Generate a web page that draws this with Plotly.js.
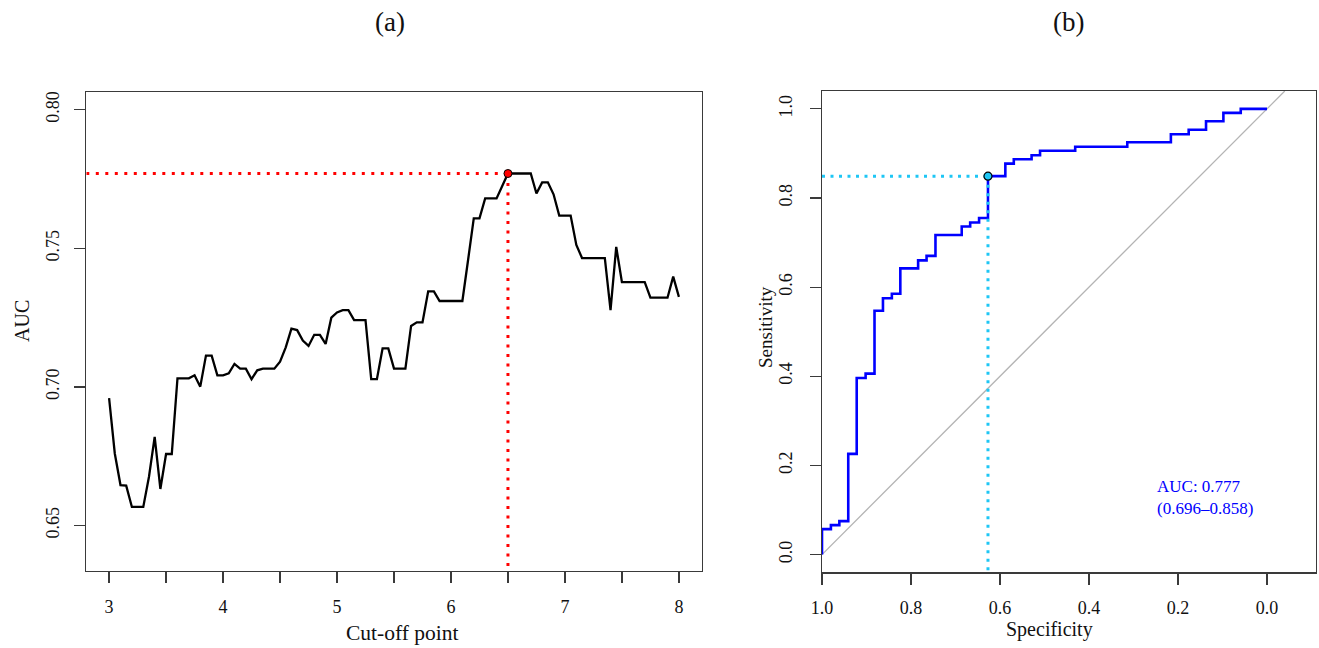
<!DOCTYPE html>
<html>
<head>
<meta charset="utf-8">
<script src="https://cdn.plot.ly/plotly-3.0.1.min.js"></script>
<style>html,body{margin:0;padding:0;background:#fff}#chart{width:1319px;height:648px}</style>
</head>
<body>
<div id="chart"></div>
<script>
// ---------- Panel (a): AUC by cut-off point ----------
const cutoff = [3.00,3.05,3.10,3.15,3.20,3.25,3.30,3.35,3.40,3.45,3.50,3.55,3.60,3.65,3.70,3.75,3.80,3.85,3.90,3.95,
  4.00,4.05,4.10,4.15,4.20,4.25,4.30,4.35,4.40,4.45,4.50,4.55,4.60,4.65,4.70,4.75,4.80,4.85,4.90,4.95,
  5.00,5.05,5.10,5.15,5.20,5.25,5.30,5.35,5.40,5.45,5.50,5.55,5.60,5.65,5.70,5.75,5.80,5.85,5.90,5.95,
  6.00,6.05,6.10,6.15,6.20,6.25,6.30,6.35,6.40,6.50,6.55,6.60,6.65,6.70,6.75,6.80,6.85,6.90,6.95,
  7.00,7.05,7.10,7.15,7.20,7.25,7.30,7.35,7.40,7.45,7.50,7.55,7.60,7.65,7.70,7.75,7.80,7.85,7.90,7.95,8.00];
const aucValues = [0.696,0.676,0.6646,0.6644,0.6567,0.6567,0.6567,0.6676,0.682,0.6632,0.6758,0.6758,0.7031,0.7031,0.7031,0.7042,0.7001,0.7113,0.7113,0.7042,
  0.7042,0.7049,0.7083,0.7066,0.7066,0.7028,0.706,0.7066,0.7066,0.7066,0.7091,0.7143,0.721,0.7205,0.7167,0.7148,0.7188,0.7188,0.7155,0.725,
  0.7269,0.7277,0.7277,0.7241,0.7241,0.7241,0.7028,0.7028,0.7139,0.7139,0.7066,0.7066,0.7066,0.722,0.7233,0.7233,0.7345,0.7345,0.731,0.731,
  0.731,0.731,0.731,0.7458,0.7608,0.7608,0.768,0.768,0.768,0.777,0.777,0.777,0.777,0.777,0.7698,0.7738,0.7738,0.7695,0.7618,
  0.7618,0.7618,0.7512,0.7465,0.7465,0.7465,0.7465,0.7465,0.7277,0.7505,0.7378,0.7378,0.7378,0.7378,0.7378,0.7322,0.7322,0.7322,0.7322,0.7398,0.7325];
const bestCutoff = 6.5;
const bestAUC = 0.777;
const aXRange = [2.8, 8.2];
const aYRange = [0.6336, 0.8064];
const aXTickVals = [3,3.5,4,4.5,5,5.5,6,6.5,7,7.5,8];
const aXTickText = ['3','','4','','5','','6','','7','','8'];
const aYTickVals = [0.65,0.70,0.75,0.80];
const aYTickText = ['0.65','0.70','0.75','0.80'];

// ---------- Panel (b): ROC curve ----------
const specificity = [1.000,1.000,0.980,0.980,0.961,0.961,0.941,0.941,0.922,0.922,0.902,0.902,0.882,0.882,0.863,0.863,0.843,0.843,0.824,0.824,
  0.784,0.784,0.765,0.765,0.745,0.745,0.686,0.686,0.667,0.667,0.647,0.647,0.627,0.627,0.588,0.588,0.569,0.569,0.529,0.529,
  0.510,0.510,0.431,0.431,0.314,0.314,0.216,0.216,0.176,0.176,0.137,0.137,0.098,0.098,0.059,0.059,0.000];
const sensitivity = [0.000,0.057,0.057,0.066,0.066,0.075,0.075,0.226,0.226,0.396,0.396,0.406,0.406,0.547,0.547,0.575,0.575,0.585,0.585,0.642,
  0.642,0.660,0.660,0.670,0.670,0.717,0.717,0.736,0.736,0.745,0.745,0.755,0.755,0.849,0.849,0.877,0.877,0.887,0.887,0.896,
  0.896,0.906,0.906,0.915,0.915,0.925,0.925,0.943,0.943,0.953,0.953,0.972,0.972,0.991,0.991,1.000,1.000];
const bestSpec = 0.627;
const bestSens = 0.849;
const chanceSpec = [1.0, -0.04];
const chanceSens = [0.0, 1.04];
const bXRange = [1.0, -0.109];
const bYRange = [-0.04, 1.04];
const bTickVals = [0,0.2,0.4,0.6,0.8,1.0];
const aucText = 'AUC: 0.777<br>(0.696\u20130.858)';
const aucTextPos = [0.251, 0.127];

// ---------- layout helpers ----------
const W = 1319, H = 648;
const px = v => v / W;
const py = v => 1 - v / H;
const FONT = '"Liberation Serif", "Times New Roman", Times, serif';
const FRAME = '#3a3a3a';

const axisCommon = {
  showgrid: false, zeroline: false, showline: true, mirror: true,
  linecolor: FRAME, linewidth: 1.4, ticks: 'outside', ticklen: 11, tickwidth: 1.2, tickcolor: FRAME,
  tickfont: {family: FONT, size: 18, color: '#111'}, fixedrange: true
};

const traces = [
  {x: [aXRange[0], bestCutoff], y: [bestAUC, bestAUC], xaxis: 'x', yaxis: 'y', mode: 'lines',
   line: {color: '#ff0000', width: 3, dash: '3px,6.5px'}, hoverinfo: 'skip'},
  {x: [bestCutoff, bestCutoff], y: [bestAUC, aYRange[0]], xaxis: 'x', yaxis: 'y', mode: 'lines',
   line: {color: '#ff0000', width: 3, dash: '3px,6.5px'}, hoverinfo: 'skip'},
  {x: cutoff, y: aucValues, xaxis: 'x', yaxis: 'y', mode: 'lines', line: {color: '#000', width: 2.3}},
  {x: [bestCutoff], y: [bestAUC], xaxis: 'x', yaxis: 'y', mode: 'markers',
   marker: {color: '#ff0000', size: 8, line: {color: '#000', width: 1}}},

  {x: chanceSpec, y: chanceSens, xaxis: 'x2', yaxis: 'y2', mode: 'lines', line: {color: '#b4b4b4', width: 1.3}, hoverinfo: 'skip'},
  {x: specificity, y: sensitivity, xaxis: 'x2', yaxis: 'y2', mode: 'lines', line: {color: '#0000ff', width: 2.6}},
  {x: [bXRange[0], bestSpec], y: [bestSens, bestSens], xaxis: 'x2', yaxis: 'y2', mode: 'lines',
   line: {color: '#1ec6f5', width: 3, dash: '3px,5.5px'}, hoverinfo: 'skip'},
  {x: [bestSpec, bestSpec], y: [bestSens, bYRange[0]], xaxis: 'x2', yaxis: 'y2', mode: 'lines',
   line: {color: '#1ec6f5', width: 3, dash: '3px,5.5px'}, hoverinfo: 'skip'},
  {x: [bestSpec], y: [bestSens], xaxis: 'x2', yaxis: 'y2', mode: 'markers',
   marker: {color: '#1ec6f5', size: 8, line: {color: '#000', width: 1.2}}}
];

function label(text, x, y, size, angle) {
  return {text: text, x: px(x), y: py(y), xref: 'paper', yref: 'paper', showarrow: false,
    xanchor: 'center', yanchor: 'middle', textangle: angle || 0, font: {family: FONT, size: size, color: '#111'}};
}

const layout = {
  width: W, height: H, showlegend: false,
  margin: {l: 0, r: 0, t: 0, b: 0},
  paper_bgcolor: '#fff', plot_bgcolor: '#fff',
  xaxis: Object.assign({}, axisCommon, {domain: [px(86.3), px(701.7)], range: aXRange,
    tickmode: 'array', tickvals: aXTickVals, ticktext: aXTickText, ticklabelstandoff: 8, anchor: 'y'}),
  yaxis: Object.assign({}, axisCommon, {domain: [py(571), py(92)], range: aYRange,
    tickmode: 'array', tickvals: aYTickVals, ticktext: aYTickText, tickangle: -90, ticklabelstandoff: 8, anchor: 'x'}),
  xaxis2: Object.assign({}, axisCommon, {domain: [px(822), px(1315.5)], range: bXRange,
    tickmode: 'array', tickvals: bTickVals, tickformat: '.1f', ticklabelstandoff: 8, anchor: 'y2'}),
  yaxis2: Object.assign({}, axisCommon, {domain: [py(572.4), py(91)], range: bYRange,
    tickmode: 'array', tickvals: bTickVals, tickformat: '.1f', tickangle: -90, ticklabelstandoff: 10, anchor: 'x2'}),
  annotations: [
    label('(a)', 390, 22, 27),
    label('(b)', 1068, 22, 27),
    label('Cut-off point', 402, 633, 21.5),
    label('AUC', 22, 321, 20, -90),
    label('Specificity', 1049, 629, 20),
    label('Sensitivity', 765, 327, 19, -90),
    {text: aucText, x: aucTextPos[0], y: aucTextPos[1], xref: 'x2', yref: 'y2', showarrow: false, xanchor: 'left', yanchor: 'middle', align: 'left',
     font: {family: FONT, size: 17, color: '#0000ff'}}
  ]
};

Plotly.newPlot('chart', traces, layout, {displayModeBar: false, staticPlot: true});
</script>
</body>
</html>
